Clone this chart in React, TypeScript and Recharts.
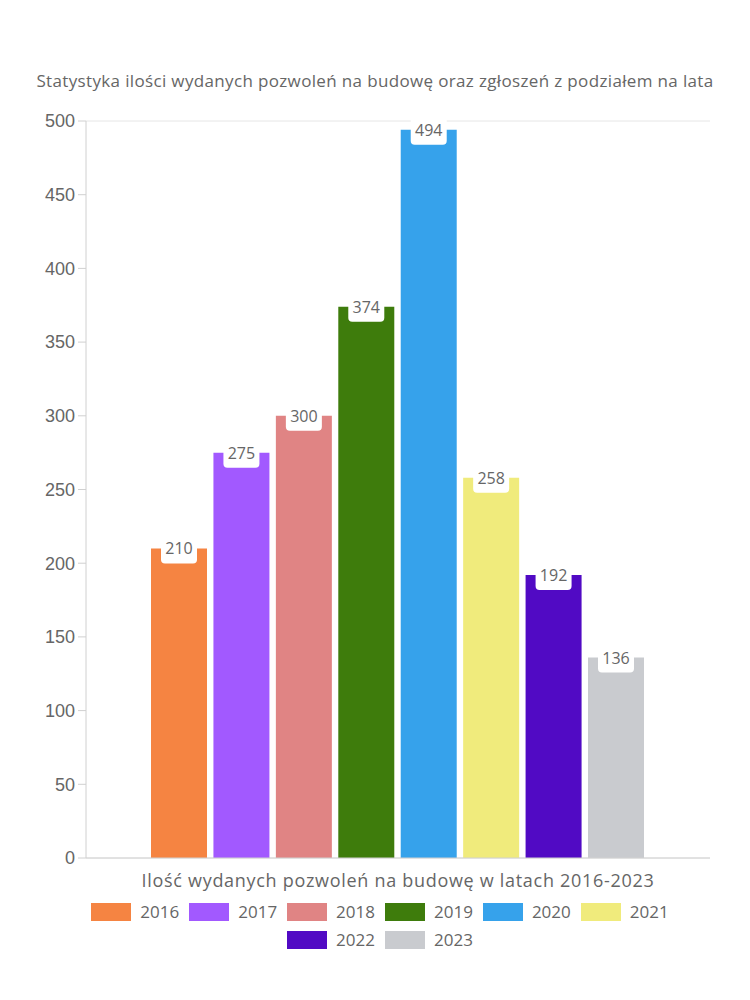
import React from "react";
import { Bar, BarChart, CartesianGrid, LabelList, XAxis, YAxis } from "recharts";

const categories = ["Ilość wydanych pozwoleń na budowę w latach 2016-2023"];
const years = ["2016", "2017", "2018", "2019", "2020", "2021", "2022", "2023"];
const permits = [210, 275, 300, 374, 494, 258, 192, 136];
const colors = ["#F58442", "#A259FF", "#E08484", "#3E7C0C", "#36A2EB", "#F0EB7C", "#510AC4", "#C9CBCF"];
const yTicks = [0, 50, 100, 150, 200, 250, 300, 350, 400, 450, 500];

const title = "Statystyka ilości wydanych pozwoleń na budowę oraz zgłoszeń z podziałem na lata";
const FONT = "'Open Sans', 'Noto Sans', sans-serif";

const data = categories.map((name) => {
  const row: Record<string, string | number> = { name };
  years.forEach((y, i) => {
    row[y] = permits[i];
  });
  return row;
});

// white rounded badge sitting on the top edge of each bar
function ValueBadge(props: any) {
  const { x, y, width, value } = props;
  const cx = x + width / 2;
  return (
    <g>
      <rect x={cx - 18} y={y - 15} width={36} height={30} rx={4} fill="#ffffff" />
      <text
        x={cx}
        y={y}
        textAnchor="middle"
        dominantBaseline="central"
        fontSize={16}
        fontFamily={FONT}
        fill="#666"
      >
        {value}
      </text>
    </g>
  );
}

export default function App() {
  return (
    <div style={{ position: "absolute", left: 0, top: 0, width: 750, height: 1000, background: "#fff" }}>
      <div
        style={{
          position: "absolute",
          top: 69,
          left: 0,
          width: 750,
          textAlign: "center",
          fontFamily: FONT,
          fontSize: 17,
          letterSpacing: 0.35,
          color: "#666",
          whiteSpace: "nowrap",
        }}
      >
        {title}
      </div>

      <BarChart
        width={750}
        height={1000}
        data={data}
        margin={{ top: 121, right: 40, left: 0, bottom: 102 }}
        barCategoryGap={65}
        barGap={6.43}
      >
        <CartesianGrid vertical={false} stroke="#e6e6e6" />
        <XAxis
          dataKey="name"
          height={40}
          stroke="#d0d0d0"
          tickLine={false}
          tick={{ fontSize: 18, fill: "#666", fontFamily: FONT, letterSpacing: 0.7 }}
          tickMargin={10}
        />
        <YAxis
          yAxisId="left"
          width={86}
          domain={[0, 500]}
          ticks={yTicks}
          stroke="#d0d0d0"
          tickSize={8}
          tickMargin={3}
          tick={{ fontSize: 18, fill: "#666", fontFamily: "'Liberation Sans', Arial, sans-serif" }}
        />
        <YAxis
          yAxisId="right"
          orientation="right"
          width={0}
          domain={[0, 500]}
          stroke="#e6e6e6"
          tick={false}
          tickLine={false}
        />
        {years.map((y, i) => (
          <Bar key={y} yAxisId="left" dataKey={y} fill={colors[i]} isAnimationActive={false}>
            <LabelList dataKey={y} content={<ValueBadge />} />
          </Bar>
        ))}
      </BarChart>

      <div
        style={{
          position: "absolute",
          top: 901,
          left: 80,
          width: 600,
          display: "flex",
          flexWrap: "wrap",
          justifyContent: "center",
          rowGap: 6,
          fontFamily: FONT,
          fontSize: 17,
          color: "#666",
        }}
      >
        {years.map((y, i) => (
          <div key={y} style={{ display: "flex", alignItems: "center", marginLeft: 5, marginRight: 5 }}>
            <span style={{ width: 40, height: 18, background: colors[i], marginRight: 9 }} />
            <span style={{ lineHeight: "22px" }}>{y}</span>
          </div>
        ))}
      </div>
    </div>
  );
}
